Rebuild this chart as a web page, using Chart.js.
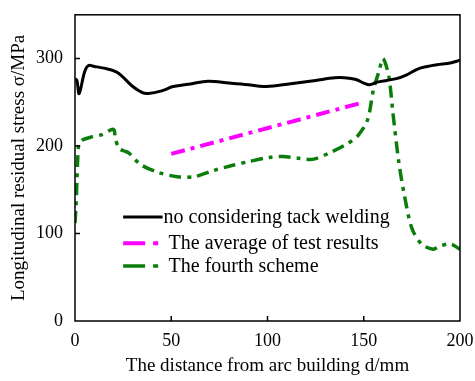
<!DOCTYPE html>
<html>
<head>
<meta charset="utf-8">
<script src="https://cdn.jsdelivr.net/npm/chart.js@4/dist/chart.umd.min.js"></script>
<style>
    html, body { margin: 0; padding: 0; background: #fff; }
    #wrap { width: 475px; height: 381px; position: relative; }
</style>
</head>
<body>
<div id="wrap"><canvas id="stress-chart" width="475" height="381"></canvas></div>
<script>
// values
const blackX = [0, 1, 2, 3, 5, 7, 10, 15, 22, 30, 35, 38, 45, 51, 60, 69, 80, 90, 98, 108, 115, 125, 135, 140, 146, 150, 153, 157, 162, 167, 172, 178, 183, 188, 195, 200];
const blackY = [277, 275, 260, 266, 285, 292, 291, 289, 284, 268, 261, 260, 263, 268, 271, 274, 272, 270, 268, 270, 272, 275, 278, 278, 276, 272, 270, 273, 275, 277, 281, 288, 291, 293, 295, 298];

const avgX = [50, 150];
const avgY = [191, 250];

const greenX = [0, 0.5, 1, 1.5, 2, 3, 8, 14, 20, 21, 23, 26, 28, 34, 43, 53, 62, 72, 82, 90, 101, 108, 116, 124, 133, 141, 147, 152, 155, 158, 160, 163, 165, 168, 171, 175, 180, 186, 190, 195, 200];
const greenY = [112, 130, 160, 190, 202, 206, 210, 213, 219, 208, 197, 194, 192, 179, 170, 165, 165, 172, 178, 182, 187, 188, 186, 185, 193, 202, 212, 230, 264, 286, 300, 280, 241, 185, 145, 106, 88, 82, 86, 88, 82];

const seriesNames = ['no considering tack welding', 'The average of test results', 'The fourth scheme'];
const legendRows = [119, 89, 63];
const xTicks = [0, 50, 100, 150, 200];
const yTicks = [0, 100, 200, 300];

const serif = "'Liberation Serif', 'Times New Roman', serif";

function pts(xs, ys) {
    return xs.map((x, i) => ({ x: x, y: ys[i] }));
}

// inward tick marks + frame
const framePlugin = {
    id: 'frame',
    afterDatasetsDraw(chart) {
        const c = chart.ctx;
        const a = chart.chartArea;
        const xs = chart.scales.x, ys = chart.scales.y;
        c.save();
        c.strokeStyle = '#000';
        c.lineWidth = 1.5;
        c.strokeRect(a.left, a.top, a.right - a.left, a.bottom - a.top);
        c.beginPath();
        yTicks.forEach(v => {
            if (v === 0) return;
            const p = ys.getPixelForValue(v);
            c.moveTo(a.left, p); c.lineTo(a.left + 5, p);
        });
        xTicks.forEach(v => {
            if (v === 0 || v === 200) return;
            const p = xs.getPixelForValue(v);
            c.moveTo(p, a.bottom); c.lineTo(p, a.bottom - 5);
        });
        c.stroke();
        c.restore();
    }
};

// legend drawn inside the plot
const legendPlugin = {
    id: 'insideLegend',
    afterDatasetsDraw(chart) {
        const c = chart.ctx;
        const xs = chart.scales.x, ys = chart.scales.y;
        const x0 = xs.getPixelForValue(25);
        const x1 = xs.getPixelForValue(45.5);
        c.save();
        c.font = '20px ' + serif;
        c.textBaseline = 'middle';
        chart.data.datasets.forEach((ds, i) => {
            const y = ys.getPixelForValue(legendRows[i]);
            c.beginPath();
            c.strokeStyle = ds.borderColor;
            c.lineWidth = ds.borderWidth;
            c.setLineDash(ds.borderDash ? [22, 8, 5, 8] : []);
            c.moveTo(x0, y); c.lineTo(x1, y);
            c.stroke();
            c.setLineDash([]);
            c.fillStyle = '#000';
            c.fillText(ds.label, x1 + (i === 0 ? 1 : 6), y + 1);
        });
        c.restore();
    }
};

new Chart(document.getElementById('stress-chart'), {
    type: 'line',
    data: {
        datasets: [
            {
                label: seriesNames[0],
                data: pts(blackX, blackY),
                borderColor: '#000000',
                borderWidth: 3,
                pointRadius: 0,
                tension: 0.35
            },
            {
                label: seriesNames[1],
                data: pts(avgX, avgY),
                borderColor: '#ff00ff',
                borderWidth: 4,
                borderDash: [14, 6, 4, 6],
                pointRadius: 0
            },
            {
                label: seriesNames[2],
                data: pts(greenX, greenY),
                borderColor: '#0a7d0a',
                borderWidth: 3.5,
                borderDash: [12, 6, 4, 6],
                pointRadius: 0,
                tension: 0.3
            }
        ]
    },
    options: {
        responsive: false,
        animation: false,
        layout: { padding: { top: 11, right: 15, left: 8, bottom: 0 } },
        plugins: {
            legend: { display: false },
            tooltip: { enabled: false }
        },
        scales: {
            x: {
                type: 'linear',
                min: 0,
                max: 200,
                afterFit: s => { s.height = 60; },
                afterBuildTicks: s => { s.ticks = xTicks.map(v => ({ value: v })); },
                grid: { display: false },
                border: { display: false },
                ticks: { color: '#000', font: { family: serif, size: 18 }, padding: 1, maxRotation: 0 },
                title: {
                    display: true,
                    text: 'The distance from arc building d/mm',
                    color: '#000',
                    font: { family: serif, size: 19 },
                    padding: { top: 6 }
                }
            },
            y: {
                min: 0,
                max: 350,
                afterFit: s => { s.width = 67; },
                afterBuildTicks: s => { s.ticks = yTicks.map(v => ({ value: v })); },
                grid: { display: false },
                border: { display: false },
                ticks: { color: '#000', font: { family: serif, size: 18 }, padding: 4 },
                title: {
                    display: true,
                    text: 'Longitudinal residual stress σ/MPa',
                    color: '#000',
                    font: { family: serif, size: 19 },
                    padding: { top: 0, bottom: 2 }
                }
            }
        }
    },
    plugins: [framePlugin, legendPlugin]
});
</script>
</body>
</html>
